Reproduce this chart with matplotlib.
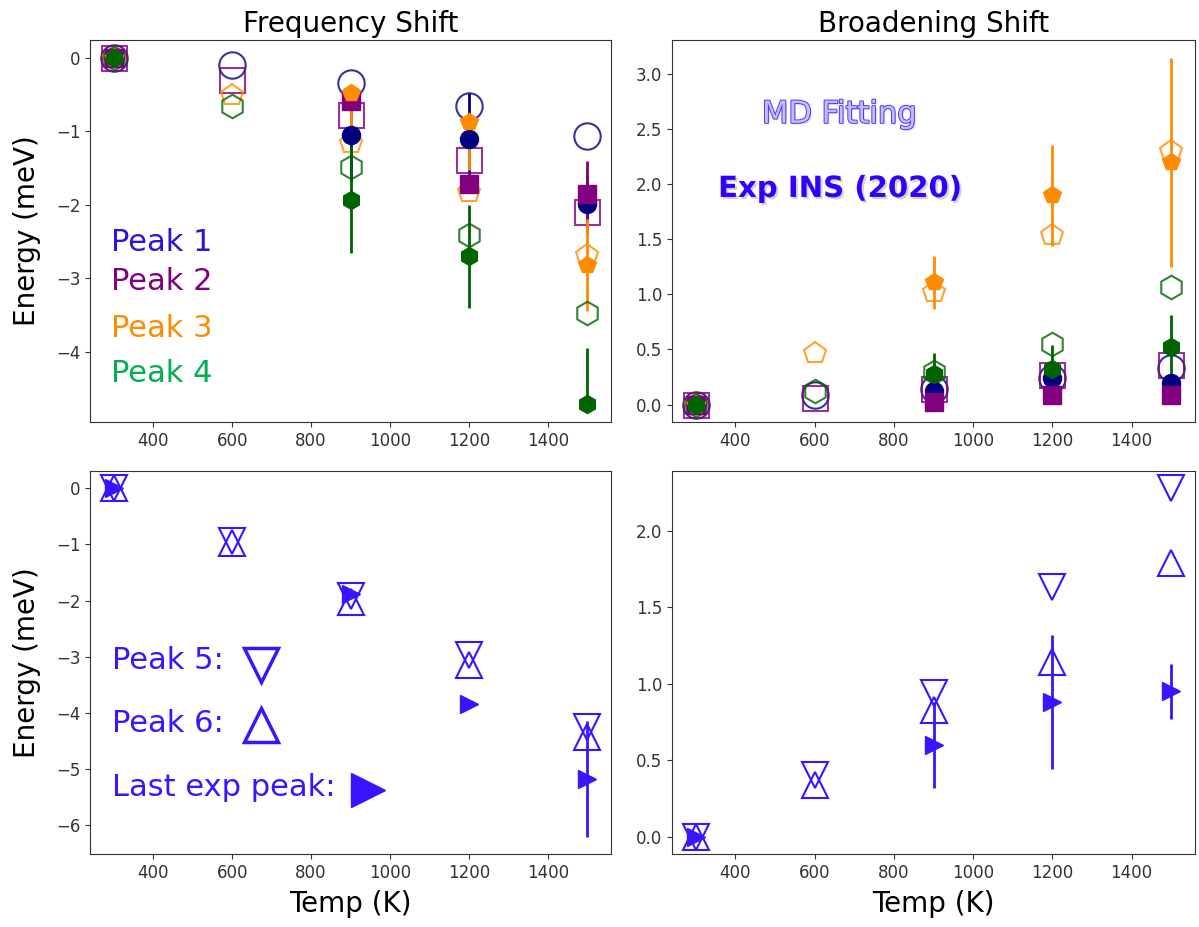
import matplotlib
matplotlib.use('Agg')
import matplotlib.pyplot as plt
import matplotlib.patheffects as pe

# temperatures (K)
T_md = [300, 600, 900, 1200, 1500]
T_exp = [300, 900, 1200, 1500]

# frequency shift (meV), MD fitting
freq_md_p1 = [0, -0.09, -0.34, -0.66, -1.07]
freq_md_p2 = [0, -0.30, -0.78, -1.39, -2.10]
freq_md_p3 = [0, -0.50, -1.16, -1.82, -2.69]
freq_md_p4 = [0, -0.66, -1.48, -2.41, -3.48]
# frequency shift (meV), Exp INS, with lower / upper errors
freq_exp_p1 = [0, -1.05, -1.10, -1.99]
freq_exp_p2 = [0, -0.58, -1.72, -1.85]
freq_exp_p3 = [0, -0.48, -0.87, -2.82]
freq_exp_p4 = [0, -1.94, -2.70, -4.72]
freq_lo_p1 = [0, 0.66, 0.56, 0.40]
freq_up_p1 = [0, 0.66, 0.62, 0.40]
freq_lo_p2 = [0, 0.05, 0.10, 0.45]
freq_up_p2 = [0, 0.05, 0.15, 0.45]
freq_lo_p3 = [0, 0.68, 0.66, 0.63]
freq_up_p3 = [0, 0.09, 0.05, 0.63]
freq_lo_p4 = [0, 0.72, 0.71, 0.0]
freq_up_p4 = [0, 0.74, 0.70, 0.77]

# broadening shift (meV), MD fitting
broad_md_p1 = [0, 0.09, 0.14, 0.24, 0.33]
broad_md_p2 = [0, 0.06, 0.14, 0.27, 0.36]
broad_md_p3 = [0, 0.47, 1.02, 1.54, 2.30]
broad_md_p4 = [0, 0.12, 0.30, 0.55, 1.07]
# broadening shift (meV), Exp INS
broad_exp_p1 = [0, 0.12, 0.24, 0.20]
broad_exp_p2 = [0, 0.02, 0.09, 0.09]
broad_exp_p3 = [0, 1.11, 1.90, 2.20]
broad_exp_p4 = [0, 0.28, 0.32, 0.52]
broad_err_p1 = [0, 0.05, 0.05, 0.05]
broad_err_p2 = [0, 0.02, 0.02, 0.02]
broad_err_p3 = [0, 0.24, 0.46, 0.95]
broad_err_p4 = [0, 0.19, 0.22, 0.29]

# peaks 5, 6 and last exp peak
freq_md_p5 = [0, -0.94, -1.92, -2.97, -4.26]
freq_md_p6 = [0, -0.97, -2.02, -3.15, -4.43]
freq_exp_last = [0, -1.89, -3.84, -5.18]
freq_err_last = [0, 0.05, 0.05, 1.03]
broad_md_p5 = [0, 0.40, 0.94, 1.63, 2.28]
broad_md_p6 = [0, 0.34, 0.83, 1.14, 1.79]
broad_exp_last = [0, 0.60, 0.88, 0.95]
broad_err_last = [0, 0.28, 0.44, 0.18]

peak_colors = ['navy', 'purple', 'darkorange', 'darkgreen']
peak_markers = ['o', 's', 'p', 'h']
peak_ms = [19, 18, 16, 17]
blue = '#3a14ff'

fig = plt.figure(figsize=(11.99, 9.27), dpi=100)
ax_tl = fig.add_axes([0.0751, 0.5448, 0.4345, 0.4121])
ax_tr = fig.add_axes([0.5605, 0.5448, 0.4362, 0.4121])
ax_bl = fig.add_axes([0.0751, 0.0787, 0.4345, 0.4132])
ax_br = fig.add_axes([0.5605, 0.0787, 0.4362, 0.4132])


def md(ax, y, c, m, ms):
    ax.plot(T_md, y, linestyle='none', marker=m, ms=ms, mfc='none', mec=c,
            mew=1.5, alpha=0.8)


def exp(ax, y, err, c, m, ms=13):
    ax.errorbar(T_exp, y, yerr=err, fmt=m, ms=ms, color=c, elinewidth=2,
                capsize=0)


freq_md = [freq_md_p1, freq_md_p2, freq_md_p3, freq_md_p4]
freq_exp = [freq_exp_p1, freq_exp_p2, freq_exp_p3, freq_exp_p4]
freq_err = [[freq_lo_p1, freq_up_p1], [freq_lo_p2, freq_up_p2],
            [freq_lo_p3, freq_up_p3], [freq_lo_p4, freq_up_p4]]
broad_md = [broad_md_p1, broad_md_p2, broad_md_p3, broad_md_p4]
broad_exp = [broad_exp_p1, broad_exp_p2, broad_exp_p3, broad_exp_p4]
broad_err = [broad_err_p1, broad_err_p2, broad_err_p3, broad_err_p4]

for i in range(4):
    md(ax_tl, freq_md[i], peak_colors[i], peak_markers[i], peak_ms[i])
    exp(ax_tl, freq_exp[i], freq_err[i], peak_colors[i], peak_markers[i])
    md(ax_tr, broad_md[i], peak_colors[i], peak_markers[i], peak_ms[i])
    exp(ax_tr, broad_exp[i], broad_err[i], peak_colors[i], peak_markers[i])

for ax, y5, y6, ye, ee in [(ax_bl, freq_md_p5, freq_md_p6, freq_exp_last, freq_err_last),
                           (ax_br, broad_md_p5, broad_md_p6, broad_exp_last, broad_err_last)]:
    ax.plot(T_md, y5, linestyle='none', marker='v', ms=19, mfc='none', mec=blue, mew=1.5)
    ax.plot(T_md, y6, linestyle='none', marker='^', ms=19, mfc='none', mec=blue, mew=1.5)
    ax.errorbar(T_exp, ye, yerr=ee, fmt='>', ms=13, color=blue, elinewidth=2, capsize=0)

ax_tl.set_ylim(-4.96, 0.245)
ax_tr.set_ylim(-0.158, 3.31)
ax_bl.set_ylim(-6.52, 0.31)
ax_br.set_ylim(-0.114, 2.39)

for ax in [ax_tl, ax_tr, ax_bl, ax_br]:
    ax.set_xlim(240, 1560)
    ax.tick_params(labelsize=12, colors='#333333')
    for s in ax.spines.values():
        s.set_color('#333333')

ax_tl.set_title('Frequency Shift', fontsize=20)
ax_tr.set_title('Broadening Shift', fontsize=20)
for ax in [ax_tl, ax_bl]:
    ax.set_ylabel('Energy (meV)', fontsize=20)
    ax.yaxis.set_label_coords(-0.094, 0.5)
for ax in [ax_bl, ax_br]:
    ax.set_xlabel('Temp (K)', fontsize=20, labelpad=6)

# peak labels
label_colors = ['#3311dd', '#800080', '#ff8c00', '#00b050']
label_y = [0.448, 0.346, 0.223, 0.105]
for i in range(4):
    ax_tl.text(0.04, label_y[i], 'Peak %d' % (i + 1), color=label_colors[i],
               fontsize=22, va='baseline', transform=ax_tl.transAxes)

ax_bl.text(0.042, 0.483, 'Peak 5:', color=blue, fontsize=22, va='baseline',
           transform=ax_bl.transAxes)
ax_bl.text(0.042, 0.319, 'Peak 6:', color=blue, fontsize=22, va='baseline',
           transform=ax_bl.transAxes)
ax_bl.text(0.042, 0.152, 'Last exp peak:', color=blue, fontsize=22, va='baseline',
           transform=ax_bl.transAxes)
ax_bl.plot([0.328], [0.493], marker='v', ms=25, mfc='none', mec=blue, mew=2.5,
           transform=ax_bl.transAxes)
ax_bl.plot([0.328], [0.337], marker='^', ms=25, mfc='none', mec=blue, mew=2.5,
           transform=ax_bl.transAxes)
ax_bl.plot([0.533], [0.167], marker='>', ms=25, color=blue,
           transform=ax_bl.transAxes)

ax_tr.text(0.172, 0.783, 'MD Fitting', color='#c4beff', fontsize=22,
           va='baseline', transform=ax_tr.transAxes,
           path_effects=[pe.withSimplePatchShadow(offset=(1.2, -1.2), shadow_rgbFace='gray', alpha=0.25),
                         pe.Stroke(linewidth=1.4, foreground='#4a38ff'), pe.Normal()])
ax_tr.text(0.088, 0.589, 'Exp INS (2020)', color='#3300ff', fontsize=21,
           fontweight='bold', va='baseline', transform=ax_tr.transAxes,
           path_effects=[pe.withSimplePatchShadow(offset=(1.5, -1.5), shadow_rgbFace='gray', alpha=0.35)])

fig.savefig('out.png', dpi=100)
